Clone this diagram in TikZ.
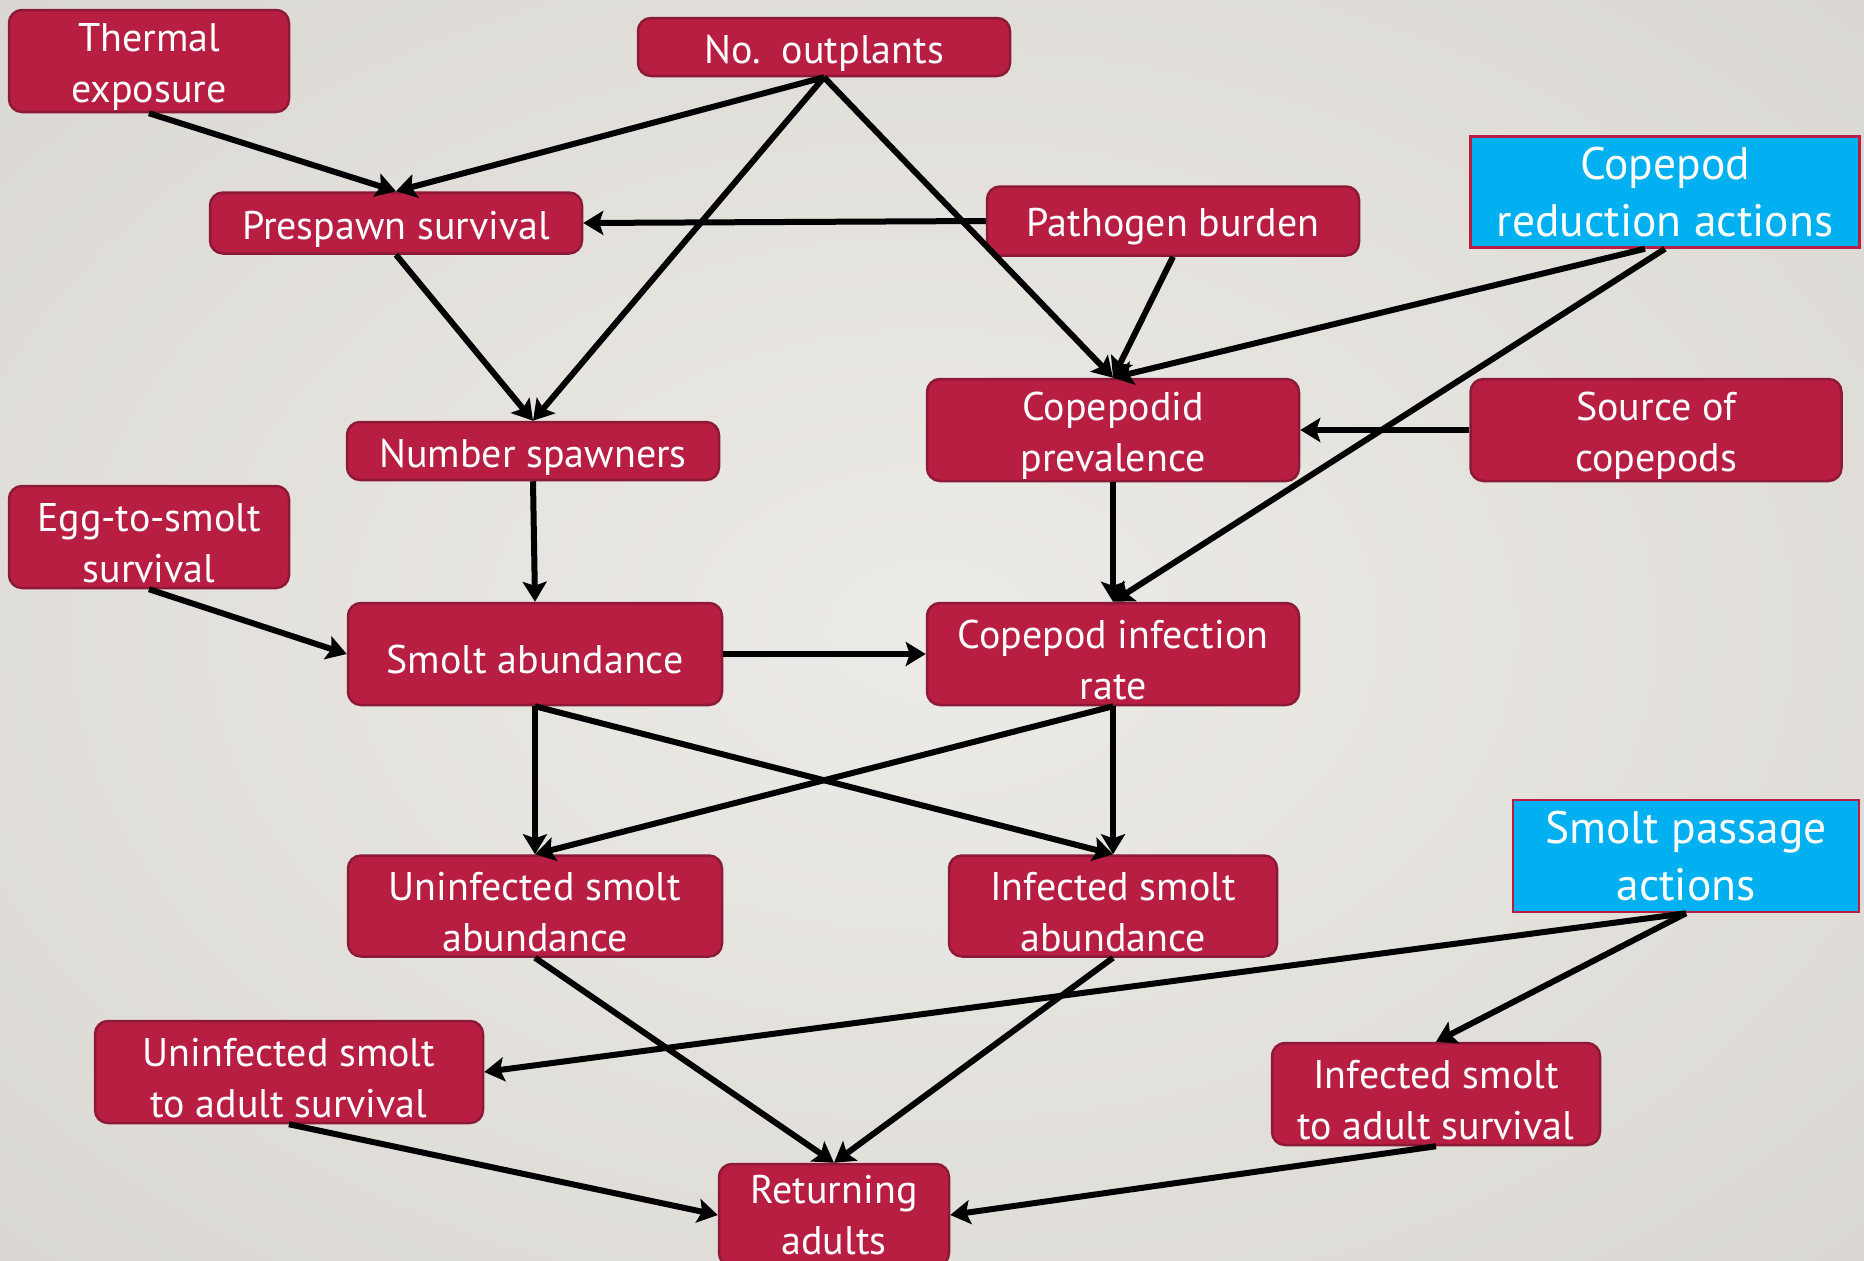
\documentclass[tikz,border=0pt]{standalone}
\usepackage{fontspec}
\setmainfont{PT Sans}
\usetikzlibrary{arrows.meta,calc}
\definecolor{boxred}{HTML}{B71E42}
\definecolor{boxedge}{HTML}{8C1A36}
\definecolor{actcyan}{HTML}{00B0F0}
\definecolor{bgmid}{HTML}{EDEBE7}
\definecolor{bgedge}{HTML}{D3D0CA}
\definecolor{bgcorner}{HTML}{C9C5BF}
\pgfdeclareradialshading{bgglow}{\pgfpoint{0bp}{0bp}}{color(0bp)=(bgmid); color(50bp)=(bgedge); color(71bp)=(bgcorner)}
% a tall invisible strut on the first line sets the text a little low in its box
\newcommand{\lowfirst}{\rule{0pt}{1em}}
\begin{document}
\begin{tikzpicture}[x=1pt,y=-1pt,
  factor/.style={draw=boxedge, line width=2.5pt, fill=boxred, rounded corners=13pt,
    text=white, align=center, inner sep=0pt, font=\fontsize{40}{51}\selectfont},
  action/.style={draw=boxred, line width=2.5pt, fill=actcyan,
    text=white, align=center, inner sep=0pt, font=\fontsize{45.5}{57}\selectfont},
  link/.style={line width=6pt, -{Stealth[length=20pt,width=24pt,inset=4pt]}}]
% canvas
\useasboundingbox (0,0) rectangle (1864,1261);
\clip (0,0) rectangle (1864,1261);
\shade[shading=bgglow] (0,0) rectangle (1864,1261);

% factors
\node[factor, minimum width=280pt, minimum height=102pt] (therm)   at (149,61)   {\lowfirst Thermal\\exposure};
\node[factor, minimum width=372pt, minimum height=58pt]  (outpl)   at (824,47)   {\lowfirst No.\ \ outplants};
\node[factor, minimum width=372pt, minimum height=61pt]  (presp)   at (396,223)  {\lowfirst Prespawn survival};
\node[factor, minimum width=372pt, minimum height=69pt]  (patho)   at (1173,221) {\lowfirst Pathogen burden};
\node[action, minimum width=389pt, minimum height=111pt] (copred)  at (1665,192) {Copepod\\reduction actions};
\node[factor, minimum width=372pt, minimum height=58pt]  (spawn)   at (533,451)  {\lowfirst Number spawners};
\node[factor, minimum width=372pt, minimum height=102pt] (prev)    at (1113,430) {\lowfirst Copepodid\\prevalence};
\node[factor, minimum width=371pt, minimum height=102pt] (source)  at (1656,430) {\lowfirst Source of\\copepods};
\node[factor, minimum width=280pt, minimum height=102pt] (egg)     at (149,537)  {\lowfirst Egg-to-smolt\\survival};
\node[factor, minimum width=374pt, minimum height=102pt] (smolt)   at (535,654)  {\lowfirst Smolt abundance};
\node[factor, minimum width=372pt, minimum height=102pt] (infrate) at (1113,654) {\lowfirst Copepod infection\\rate};
\node[factor, minimum width=374pt, minimum height=101pt] (unsm)    at (535,906)  {\lowfirst Uninfected smolt\\abundance};
\node[factor, minimum width=328pt, minimum height=101pt] (insm)    at (1113,906) {\lowfirst Infected smolt\\abundance};
\node[action, minimum width=346pt, minimum height=112pt] (passage) at (1686,856) {Smolt passage\\actions};
\node[factor, minimum width=388pt, minimum height=102pt] (unsurv)  at (289,1072) {\lowfirst Uninfected smolt\\to adult survival};
\node[factor, minimum width=328pt, minimum height=102pt] (insurv)  at (1436,1094) {\lowfirst Infected smolt\\to adult survival};
\node[factor, minimum width=230pt, minimum height=102pt] (ret)     at (834,1215) {Returning\\adults};

% links
\draw[link] (therm.south) -- (presp.north);
\draw[link] (outpl.south) -- (presp.north);
\draw[link] (outpl.south) -- (spawn.north);
\draw[link] (outpl.south) -- (prev.north);
\draw[link] (patho.west) -- (presp.east);
\draw[link] (patho.south) -- (prev.north);
\draw[link] ($(copred.south)+(-20,0)$) -- (prev.north);
\draw[link] (copred.south) -- (infrate.north);
\draw[link] (source.west) -- (prev.east);
\draw[link] (presp.south) -- (spawn.north);
\draw[link] (spawn.south) -- (smolt.north);
\draw[link] (prev.south) -- (infrate.north);
\draw[link] (egg.south) -- (smolt.west);
\draw[link] (smolt.east) -- (infrate.west);
\draw[link] (smolt.south) -- (unsm.north);
\draw[link] (smolt.south) -- (insm.north);
\draw[link] (infrate.south) -- (unsm.north);
\draw[link] (infrate.south) -- (insm.north);
\draw[link] (unsm.south) -- (ret.north);
\draw[link] (insm.south) -- (ret.north);
\draw[link] (passage.south) -- (unsurv.east);
\draw[link] (passage.south) -- (insurv.north);
\draw[link] (unsurv.south) -- (ret.west);
\draw[link] (insurv.south) -- (ret.east);
\end{tikzpicture}
\end{document}
